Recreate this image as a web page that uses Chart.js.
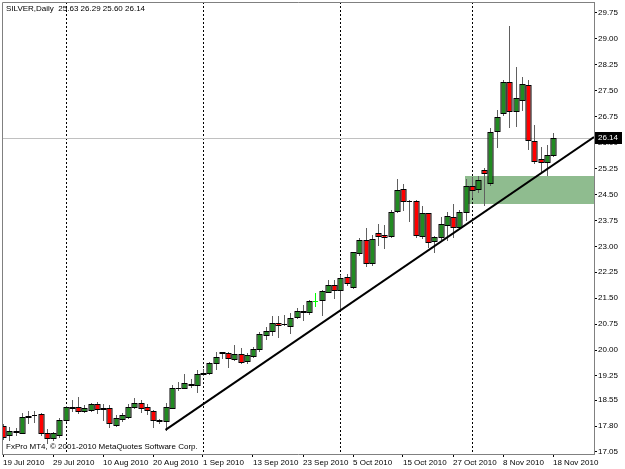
<!DOCTYPE html>
<html><head><meta charset="utf-8">
<script src="https://cdn.jsdelivr.net/npm/chart.js@4/dist/chart.umd.min.js"></script>
<style>html,body{margin:0;padding:0;background:#fff}#wrap{width:625px;height:469px;position:relative}</style>
</head><body><div id="wrap"><canvas id="c" width="625" height="469"></canvas></div>
<script>
// ---- data ----
const titleText = 'SILVER,Daily';
const footerText = 'FxPro MT4, \u00A9 2001-2010 MetaQuotes Software Corp.';
const opens  = [17.81,17.54,17.64,17.61,18.06,18.12,18.14,17.61,17.45,17.54,17.98,18.33,18.34,18.23,18.26,18.44,18.30,18.31,17.83,18.00,18.07,18.34,18.48,18.34,18.25,17.97,17.95,18.33,18.89,18.89,19.03,18.99,19.32,19.33,19.62,19.92,19.91,19.74,19.89,19.68,19.83,20.02,20.44,20.56,20.79,20.74,20.70,20.96,21.10,21.09,21.42,21.45,21.69,21.88,21.74,22.12,21.83,22.80,23.18,22.51,23.38,23.33,23.30,24.01,24.66,24.32,24.31,23.30,23.96,23.15,23.28,23.62,23.86,23.57,24.00,24.75,24.66,25.21,24.84,26.35,26.87,27.76,26.92,27.23,27.67,26.05,25.52,25.45,25.63];
const highs  = [17.85,17.77,17.73,18.19,18.25,18.24,18.18,17.72,17.63,18.03,18.39,18.55,18.65,18.40,18.47,18.49,18.43,18.41,18.12,18.17,18.43,18.60,18.56,18.45,18.27,18.01,18.46,18.99,19.08,19.30,19.17,19.42,19.45,19.66,19.95,19.95,19.95,20.15,20.05,19.90,20.10,20.51,20.68,20.97,20.97,21.01,21.06,21.21,21.30,21.46,21.65,21.74,22.03,22.03,22.17,22.20,22.85,23.23,23.52,23.32,23.64,23.62,24.06,24.95,24.79,24.34,24.34,24.16,23.96,23.30,23.85,24.00,24.22,24.06,24.95,25.00,25.02,25.26,26.41,26.94,27.81,29.38,28.20,27.91,27.81,26.51,25.88,25.93,26.29];
const lows   = [17.42,17.39,17.54,17.60,17.90,17.93,17.54,17.30,17.40,17.49,17.95,18.24,18.17,18.20,18.24,18.17,17.98,17.78,17.79,17.94,18.04,18.31,18.20,18.14,17.78,17.88,17.69,18.31,18.85,18.89,18.92,18.80,19.27,19.30,19.44,19.76,19.52,19.71,19.63,19.63,19.79,19.98,20.31,20.44,20.39,20.72,20.48,20.92,20.87,21.05,21.28,21.02,21.69,21.51,21.16,21.89,21.79,22.76,22.44,22.46,23.04,22.94,23.27,23.98,24.05,23.73,23.27,23.25,22.99,22.83,23.20,23.18,23.28,23.51,23.76,24.44,24.58,24.20,24.77,25.88,26.80,26.44,26.48,26.94,25.81,25.40,25.11,25.06,25.60];
const closes = [17.48,17.67,17.66,18.05,18.08,18.13,17.61,17.46,17.59,17.98,18.34,18.35,18.24,18.33,18.43,18.28,18.31,17.88,18.04,18.12,18.36,18.48,18.33,18.26,17.98,17.95,18.36,18.89,18.90,19.06,18.99,19.31,19.33,19.62,19.81,19.93,19.76,19.89,19.66,19.86,20.03,20.46,20.56,20.77,20.72,20.75,20.92,21.14,21.12,21.42,21.42,21.71,21.89,21.74,22.09,21.93,22.83,23.18,22.51,23.21,23.30,23.27,24.00,24.63,24.31,24.30,23.33,23.96,23.13,23.27,23.64,23.89,23.57,24.00,24.75,24.63,24.92,25.12,26.32,26.73,27.76,26.92,27.28,27.70,26.08,25.48,25.45,25.64,26.14];
const dateLabels = ['19 Jul 2010','29 Jul 2010','10 Aug 2010','20 Aug 2010','1 Sep 2010','13 Sep 2010','23 Sep 2010','5 Oct 2010','15 Oct 2010','27 Oct 2010','8 Nov 2010','18 Nov 2010'];
const dateLabelBars = [0,8,16,24,32,40,48,56,64,72,80,88];
const monthStartBars = [10,32,54,75];
const priceTicks = [17.05,17.80,18.55,19.25,20.00,20.75,21.50,22.25,23.00,23.75,24.50,25.25,26.00,26.75,27.50,28.25,29.00,29.75];
const trendBars = [26, 94.56];
const trendPrices = [17.69, 26.16];
const zoneStartBar = 73.9;
const zoneHigh = 25.03;
const zoneLow = 24.22;

// ---- chart ----
const FONT = {family: 'Tahoma, "Liberation Sans", Arial, sans-serif', size: 8};
const xMin = -0.16, xMax = 94.56, yMin = 16.992, yMax = 30.068;
const noPad = s => { s.paddingTop = 0; s.paddingBottom = 0; s.paddingLeft = 0; s.paddingRight = 0; };

const mt4 = {
  id: 'mt4',
  beforeDatasetsDraw(chart) {
    const {ctx, chartArea: a, scales: {x, y}} = chart;
    ctx.save();
    ctx.beginPath(); ctx.rect(a.left, a.top, a.right - a.left, a.bottom - a.top); ctx.clip();
    // zone rectangle (background object)
    const zx = x.getPixelForValue(zoneStartBar), zt = y.getPixelForValue(zoneHigh), zb = y.getPixelForValue(zoneLow);
    ctx.fillStyle = '#8fbc8f';
    ctx.fillRect(Math.round(zx), Math.round(zt), a.right - Math.round(zx), Math.round(zb) - Math.round(zt));
    // month separators
    ctx.strokeStyle = '#000'; ctx.lineWidth = 1; ctx.setLineDash([2, 2]);
    monthStartBars.forEach(b => {
      const px = Math.round(x.getPixelForValue(b)) + 0.5;
      ctx.beginPath(); ctx.moveTo(px, a.top); ctx.lineTo(px, a.bottom); ctx.stroke();
    });
    ctx.setLineDash([]);
    // bid line
    const by = Math.round(y.getPixelForValue(closes[closes.length - 1])) + 0.5;
    ctx.strokeStyle = '#c0c0c0';
    ctx.beginPath(); ctx.moveTo(a.left, by); ctx.lineTo(a.right, by); ctx.stroke();
    // candles
    for (let i = 0; i < opens.length; i++) {
      const px = Math.round(x.getPixelForValue(i)) + 0.5;
      const yh = Math.round(y.getPixelForValue(highs[i])), yl = Math.round(y.getPixelForValue(lows[i]));
      const yo = Math.round(y.getPixelForValue(opens[i])), yc = Math.round(y.getPixelForValue(closes[i]));
      ctx.strokeStyle = '#606060';
      ctx.beginPath(); ctx.moveTo(px, yh); ctx.lineTo(px, yl + 1); ctx.stroke();
      const top = Math.min(yo, yc), bot = Math.max(yo, yc);
      if (opens[i] === closes[i]) {
        ctx.strokeStyle = '#00ff00';
        ctx.beginPath(); ctx.moveTo(px, yh); ctx.lineTo(px, yl + 1); ctx.stroke();
        ctx.beginPath(); ctx.moveTo(px - 2.5, top + 0.5); ctx.lineTo(px + 2.5, top + 0.5); ctx.stroke();
      } else if (bot - top < 1) {
        ctx.strokeStyle = '#000';
        ctx.beginPath(); ctx.moveTo(px - 2.5, top + 0.5); ctx.lineTo(px + 2.5, top + 0.5); ctx.stroke();
      } else {
        ctx.fillStyle = closes[i] > opens[i] ? '#228b22' : '#ff0000';
        ctx.fillRect(px - 2, top, 4, bot - top);
        ctx.strokeStyle = '#000';
        ctx.strokeRect(px - 2.5, top + 0.5, 5, bot - top);
      }
    }
    ctx.restore();
  },
  afterDraw(chart) {
    const {ctx, chartArea: a, scales: {y}} = chart;
    ctx.save();
    ctx.strokeStyle = '#808080'; ctx.lineWidth = 1;
    ctx.beginPath();
    ctx.moveTo(a.left + 0.5, a.bottom); ctx.lineTo(a.left + 0.5, a.top + 0.5); ctx.lineTo(a.right, a.top + 0.5);
    ctx.stroke();
    ctx.font = FONT.size + 'px ' + FONT.family;
    ctx.fillStyle = '#000'; ctx.textBaseline = 'middle'; ctx.textAlign = 'left';
    const last = opens.length - 1;
    ctx.fillText(titleText + '  ' + [opens[last], highs[last], lows[last], closes[last]].map(v => v.toFixed(2)).join(' '), a.left + 4, a.top + 7);
    ctx.fillText(footerText, a.left + 4, a.bottom - 7);
    // last price marker on the axis
    const py = Math.round(y.getPixelForValue(closes[last]));
    ctx.fillStyle = '#000';
    ctx.fillRect(a.right + 1, py - 6, 27, 12);
    ctx.fillStyle = '#fff';
    ctx.fillText(closes[last].toFixed(2), a.right + 4, py);
    ctx.restore();
  }
};

new Chart(document.getElementById('c'), {
  type: 'line',
  data: {
    datasets: [{
      data: trendBars.map((b, i) => ({x: b, y: trendPrices[i]})),
      borderColor: '#000', borderWidth: 2, pointRadius: 0, fill: false, tension: 0
    }]
  },
  plugins: [mt4],
  options: {
    responsive: false, animation: false, devicePixelRatio: 1,
    layout: {padding: {left: 2, top: 2, right: 0, bottom: 0}},
    plugins: {legend: {display: false}, tooltip: {enabled: false}},
    scales: {
      x: {
        type: 'linear', min: xMin, max: xMax, position: 'bottom',
        afterBuildTicks: s => { s.ticks = dateLabelBars.map(v => ({value: v})); },
        ticks: {
          autoSkip: false, maxRotation: 0, align: 'start', padding: 1, color: '#000', font: FONT,
          callback: v => dateLabels[dateLabelBars.indexOf(v)]
        },
        grid: {drawOnChartArea: false, drawTicks: true, tickLength: 3, color: '#000'},
        border: {display: true, color: '#808080'},
        afterFit: s => { s.height = 15; noPad(s); }
      },
      y: {
        type: 'linear', min: yMin, max: yMax, position: 'right',
        afterBuildTicks: s => { s.ticks = priceTicks.map(v => ({value: v})); },
        ticks: {autoSkip: false, padding: 1, color: '#000', font: FONT, callback: v => Number(v).toFixed(2)},
        grid: {drawOnChartArea: false, drawTicks: true, tickLength: 3, color: '#000'},
        border: {display: true, color: '#808080'},
        afterFit: s => { s.width = 31; noPad(s); }
      }
    }
  }
});
</script>
</body></html>
